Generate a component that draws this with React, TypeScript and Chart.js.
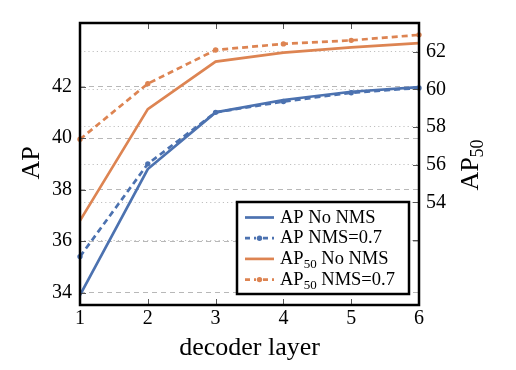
import React, { useEffect, useRef } from "react";
import { Chart, registerables } from "chart.js";

Chart.register(...registerables);

const layers = [1, 2, 3, 4, 5, 6];
const apNoNms = [33.9, 38.8, 41.0, 41.48, 41.8, 41.98];
const apNms = [35.4, 39.0, 41.0, 41.42, 41.76, 41.95];
const ap50NoNms = [53.03, 58.95, 61.47, 61.95, 62.23, 62.45];
const ap50Nms = [57.35, 60.3, 62.09, 62.41, 62.6, 62.89];
const apTicks = [34, 36, 38, 40, 42];
const ap50Ticks = [52, 54, 56, 58, 60, 62];
const ap50Labeled = [54, 56, 58, 60, 62];
const seriesLabels = ["AP No NMS", "AP NMS=0.7", "AP50 No NMS", "AP50 NMS=0.7"];

const BLUE = "#4c72b0";
const ORANGE = "#dd8452";
const FONT = "'Liberation Serif', 'Times New Roman', serif";
const LINE_W = 2.7;
const DASH = [6, 4];

function drawSubText(ctx: CanvasRenderingContext2D, text: string, x: number, y: number, size: number, subSize: number, shift: number) {
  const m = text.match(/^(AP)(50)(.*)$/);
  ctx.textAlign = "left";
  ctx.textBaseline = "alphabetic";
  if (!m) {
    ctx.font = `${size}px ${FONT}`;
    ctx.fillText(text, x, y);
    return;
  }
  ctx.font = `${size}px ${FONT}`;
  ctx.fillText(m[1], x, y);
  let cx = x + ctx.measureText(m[1]).width;
  ctx.font = `${subSize}px ${FONT}`;
  ctx.fillText(m[2], cx, y + shift);
  cx += ctx.measureText(m[2]).width;
  ctx.font = `${size}px ${FONT}`;
  ctx.fillText(m[3], cx, y);
}

function measureSub(ctx: CanvasRenderingContext2D, text: string, size: number, subSize: number) {
  const m = text.match(/^(AP)(50)(.*)$/);
  ctx.font = `${size}px ${FONT}`;
  if (!m) return ctx.measureText(text).width;
  let w = ctx.measureText(m[1]).width + ctx.measureText(m[3]).width;
  ctx.font = `${subSize}px ${FONT}`;
  w += ctx.measureText(m[2]).width;
  return w;
}

const overlay = {
  id: "overlay",
  afterDraw(chart: any) {
    const ctx: CanvasRenderingContext2D = chart.ctx;
    const a = chart.chartArea;
    const xs = chart.scales.x;
    const y = chart.scales.y;
    const y1 = chart.scales.y1;
    ctx.save();

    // inner tick marks
    ctx.strokeStyle = "#555";
    ctx.lineWidth = 1;
    ctx.setLineDash([]);
    ctx.beginPath();
    layers.slice(1, -1).forEach((v) => {
      const px = Math.round(xs.getPixelForValue(v)) + 0.5;
      ctx.moveTo(px, a.top);
      ctx.lineTo(px, a.top + 6);
      ctx.moveTo(px, a.bottom);
      ctx.lineTo(px, a.bottom - 6);
    });
    apTicks.forEach((v) => {
      const py = Math.round(y.getPixelForValue(v)) + 0.5;
      ctx.moveTo(a.left, py);
      ctx.lineTo(a.left + 6, py);
    });
    ap50Ticks.forEach((v) => {
      const py = Math.round(y1.getPixelForValue(v)) + 0.5;
      ctx.moveTo(a.right, py);
      ctx.lineTo(a.right - 6, py);
    });
    ctx.stroke();

    // frame
    ctx.strokeStyle = "#000";
    ctx.lineWidth = 2.5;
    ctx.strokeRect(a.left, a.top, a.right - a.left, a.bottom - a.top);

    // legend
    const lw = 172;
    const lh = 92;
    const lr = a.right - 10;
    const lb = a.bottom - 11;
    const lx = lr - lw;
    const ly = lb - lh;
    ctx.fillStyle = "#fff";
    ctx.fillRect(lx, ly, lw, lh);
    ctx.strokeStyle = "#000";
    ctx.lineWidth = 2.5;
    ctx.strokeRect(lx, ly, lw, lh);
    const colors = [BLUE, BLUE, ORANGE, ORANGE];
    const dashed = [false, true, false, true];
    seriesLabels.forEach((lab, i) => {
      const base = ly + 20.5 + i * 20.7;
      const my = base - 5;
      ctx.strokeStyle = colors[i];
      ctx.lineWidth = LINE_W;
      ctx.setLineDash(dashed[i] ? [5, 4] : []);
      ctx.beginPath();
      ctx.moveTo(lx + 8, my);
      ctx.lineTo(lx + 37, my);
      ctx.stroke();
      ctx.setLineDash([]);
      if (dashed[i]) {
        ctx.fillStyle = "#fff";
        ctx.fillRect(lx + 19, my - 3, 7, 6);
        ctx.fillStyle = colors[i];
        ctx.beginPath();
        ctx.arc(lx + 22.5, my, 2.7, 0, Math.PI * 2);
        ctx.fill();
      }
      ctx.fillStyle = "#000";
      drawSubText(ctx, lab, lx + 43, base, 18.5, 13, 4);
    });

    // axis titles
    ctx.fillStyle = "#000";
    ctx.font = `26px ${FONT}`;
    ctx.textAlign = "center";
    ctx.textBaseline = "alphabetic";
    ctx.fillText("decoder layer", (a.left + a.right) / 2, 355);

    ctx.save();
    ctx.translate(38.5, (a.top + a.bottom) / 2 - 1);
    ctx.rotate(-Math.PI / 2);
    ctx.font = `26px ${FONT}`;
    ctx.textAlign = "center";
    ctx.fillText("AP", 0, 0);
    ctx.restore();

    ctx.save();
    ctx.translate(477.5, (a.top + a.bottom) / 2 + 1);
    ctx.rotate(-Math.PI / 2);
    const w = measureSub(ctx, "AP50", 26, 18);
    drawSubText(ctx, "AP50", -w / 2, 0, 26, 18, 5);
    ctx.restore();

    ctx.restore();
  },
};

export default function App() {
  const ref = useRef<HTMLCanvasElement | null>(null);
  useEffect(() => {
    if (!ref.current) return;
    const pts = (arr: number[]) => layers.map((x, i) => ({ x, y: arr[i] }));
    const chart = new Chart(ref.current, {
      type: "line",
      data: {
        datasets: [
          {
            label: seriesLabels[0],
            data: pts(apNoNms),
            yAxisID: "y",
            borderColor: BLUE,
            backgroundColor: BLUE,
            borderWidth: LINE_W,
            pointRadius: 0,
            tension: 0,
            clip: false as any,
          },
          {
            label: seriesLabels[1],
            data: pts(apNms),
            yAxisID: "y",
            borderColor: BLUE,
            backgroundColor: BLUE,
            borderWidth: LINE_W,
            borderDash: DASH,
            pointRadius: 2.7,
            pointBorderWidth: 0,
            pointBackgroundColor: BLUE,
            tension: 0,
            clip: false as any,
          },
          {
            label: seriesLabels[2],
            data: pts(ap50NoNms),
            yAxisID: "y1",
            borderColor: ORANGE,
            backgroundColor: ORANGE,
            borderWidth: LINE_W,
            pointRadius: 0,
            tension: 0,
            clip: false as any,
          },
          {
            label: seriesLabels[3],
            data: pts(ap50Nms),
            yAxisID: "y1",
            borderColor: ORANGE,
            backgroundColor: ORANGE,
            borderWidth: LINE_W,
            borderDash: DASH,
            pointRadius: 2.7,
            pointBorderWidth: 0,
            pointBackgroundColor: ORANGE,
            tension: 0,
            clip: false as any,
          },
        ],
      },
      options: {
        animation: false,
        responsive: false,
        layout: { padding: { top: 23, left: 0, right: 0, bottom: 0 } },
        plugins: { legend: { display: false }, tooltip: { enabled: false } },
        scales: {
          x: {
            type: "linear",
            min: 1,
            max: 6,
            ticks: { stepSize: 1, color: "#000", font: { family: FONT, size: 20 }, padding: 2 },
            grid: { display: false, drawTicks: false },
            border: { display: false },
            afterFit: (s: any) => {
              s.height = 65;
            },
          },
          y: {
            type: "linear",
            position: "left",
            min: 33.52,
            max: 44.47,
            afterBuildTicks: (s: any) => {
              s.ticks = apTicks.map((v) => ({ value: v }));
            },
            ticks: { color: "#000", font: { family: FONT, size: 20 }, padding: 8 },
            grid: { color: "#b8b8b8", lineWidth: 1, drawTicks: false },
            border: { display: false, dash: [5, 4] },
            afterFit: (s: any) => {
              s.width = 80;
            },
          },
          y1: {
            type: "linear",
            position: "right",
            min: 48.55,
            max: 63.52,
            afterBuildTicks: (s: any) => {
              s.ticks = ap50Ticks.map((v) => ({ value: v }));
            },
            ticks: {
              color: "#000",
              font: { family: FONT, size: 20 },
              padding: 7,
              callback: (v: any) => (ap50Labeled.includes(Number(v)) ? String(v) : ""),
            },
            grid: { color: "#c0c0c0", lineWidth: 1, drawTicks: false },
            border: { display: false, dash: [1.2, 3] },
            afterFit: (s: any) => {
              s.width = 97;
            },
          },
        },
      },
      plugins: [overlay],
    } as any);
    return () => chart.destroy();
  }, []);
  return (
    <div style={{ position: "fixed", left: 0, top: 0, width: 516, height: 370, background: "#fff" }}>
      <canvas ref={ref} width={516} height={370} style={{ display: "block" }} />
    </div>
  );
}
